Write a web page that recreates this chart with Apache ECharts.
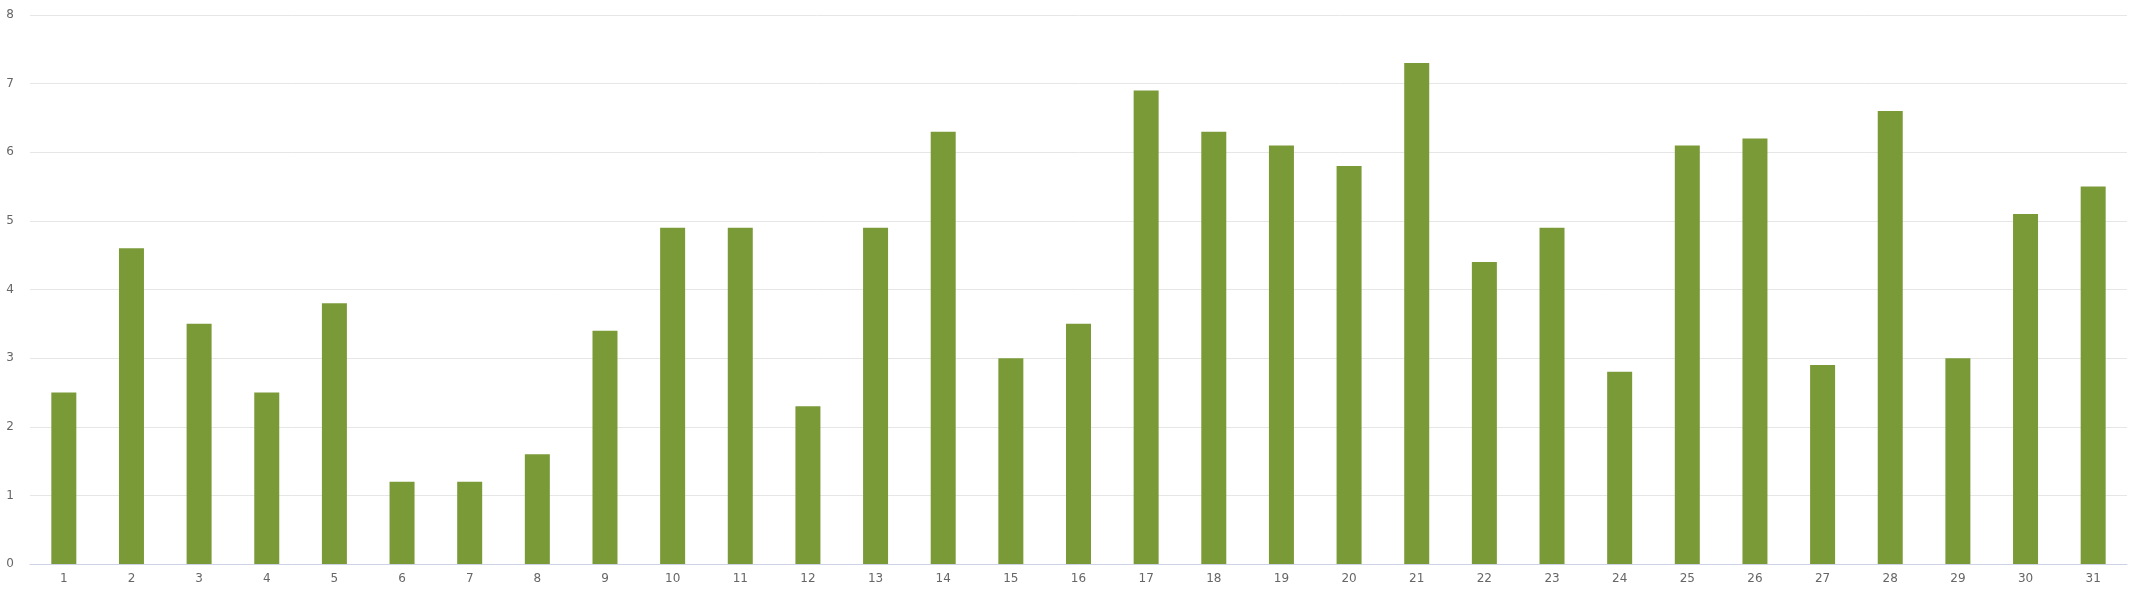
<!DOCTYPE html>
<html><head><meta charset="utf-8">
<script src="https://cdn.jsdelivr.net/npm/echarts@6/dist/echarts.min.js"></script>
<style>html,body{margin:0;padding:0;background:#fff;}#c{width:2140px;height:593px;}</style>
</head><body><div id="c"></div>
<script>
const categories = ['1','2','3','4','5','6','7','8','9','10','11','12','13','14','15','16','17','18','19','20','21','22','23','24','25','26','27','28','29','30','31'];
const values = [2.5,4.6,3.5,2.5,3.8,1.2,1.2,1.6,3.4,4.9,4.9,2.3,4.9,6.3,3.0,3.5,6.9,6.3,6.1,5.8,7.3,4.4,4.9,2.8,6.1,6.2,2.9,6.6,3.0,5.1,5.5];
const chart = echarts.init(document.getElementById('c'));
chart.setOption({
  animation:false,
  grid:{left:30,right:13,top:15,bottom:29,containLabel:false},
  xAxis:{type:'category',data:categories,
    axisLine:{lineStyle:{color:'#ccd3e6'}},axisTick:{show:false},
    axisLabel:{color:'#666',fontSize:12,margin:9,fontFamily:'DejaVu Sans'}},
  yAxis:{type:'value',min:0,max:8,interval:1,
    axisLine:{show:false},axisTick:{show:false},
    splitLine:{lineStyle:{color:'#e6e6e6'}},
    axisLabel:{color:'#666',fontSize:12,margin:16,fontFamily:'DejaVu Sans'}},
  series:[{type:'bar',data:values,barWidth:25,itemStyle:{color:'#7a9a38'}}]
});
</script></body></html>
